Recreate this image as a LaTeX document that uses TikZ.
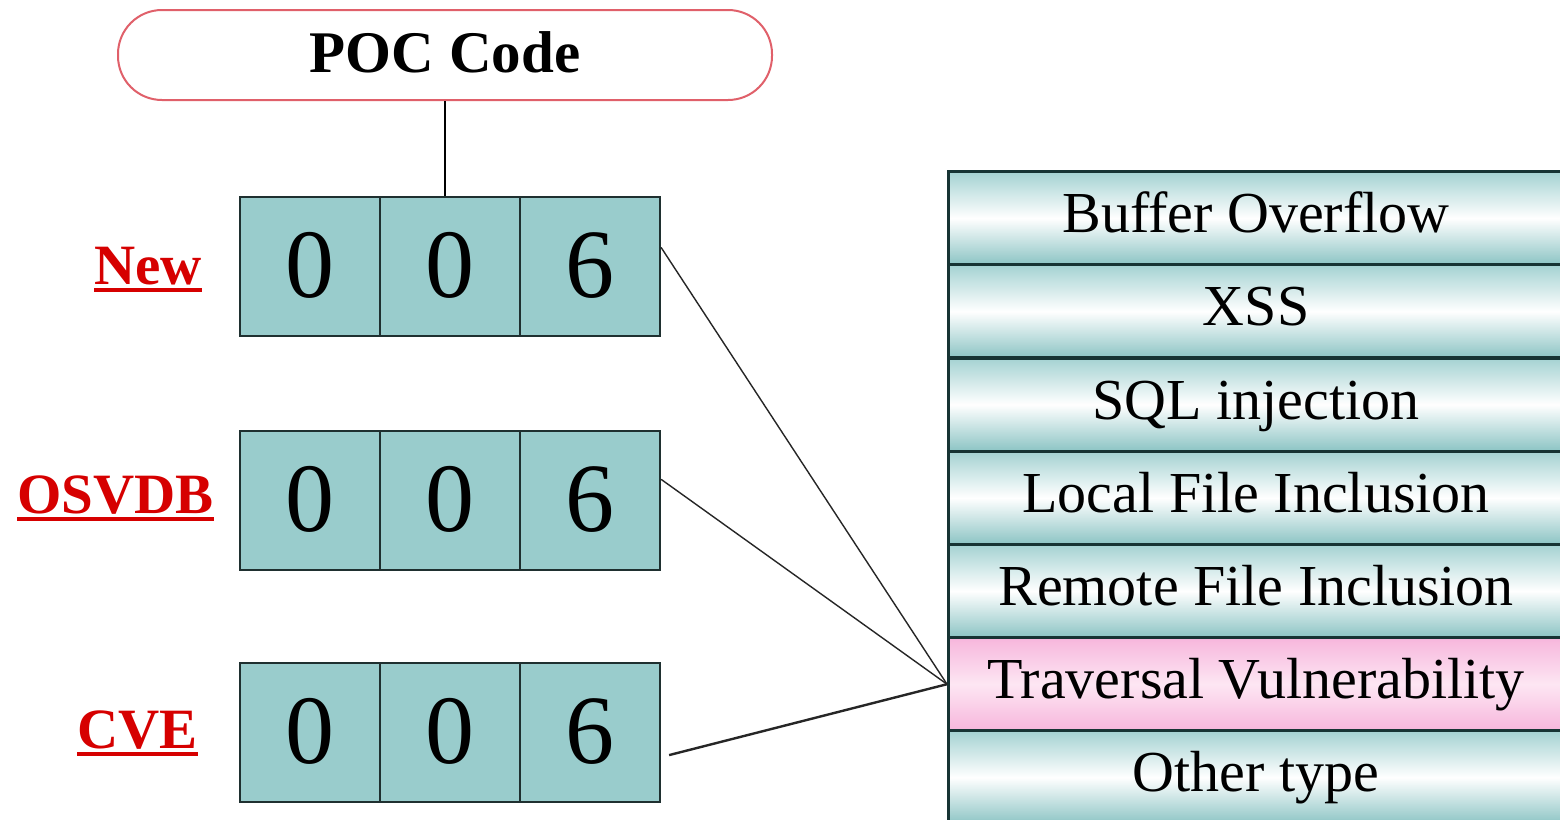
\documentclass[tikz,border=0pt]{standalone}
\usepackage{fontspec}
\setmainfont{Liberation Serif}
\usetikzlibrary{calc}
\definecolor{cellfill}{HTML}{99CCCC}
\definecolor{cellline}{HTML}{1F3030}
\definecolor{rowtealtop}{HTML}{A4D2D2}
\definecolor{rowteal}{HTML}{8CC4C4}
\definecolor{rowline}{HTML}{173434}
\definecolor{pinkA}{HTML}{F7B6DC}
\definecolor{pinkB}{HTML}{FDE6F3}
\definecolor{labred}{HTML}{D60000}
\definecolor{pocred}{HTML}{E0606A}
\newcommand\labul[1]{\setbox0\hbox{#1}\rlap{\rule[-8pt]{\wd0}{4pt}}\box0}
\tikzset{
  cellbox/.style={draw=cellline, line width=2.2pt, fill=cellfill, minimum width=140pt, minimum height=139pt, inner sep=0pt,
    font=\fontsize{98}{100}\selectfont, text height=68pt, text depth=7pt},
  rowbox/.style={draw=rowline, line width=3.2pt, top color=rowtealtop, bottom color=rowteal, middle color=white,
    minimum width=615pt, minimum height=93.2pt, inner sep=0pt, anchor=north west,
    font=\fontsize{58}{60}\selectfont, text height=40.6pt, text depth=11.6pt},
  pinkbox/.style={rowbox, top color=pinkA, bottom color=pinkA, middle color=pinkB},
  lab/.style={anchor=base east, inner sep=0pt, text=labred, font=\fontsize{57}{60}\selectfont\bfseries},
  conn/.style={draw=black!85, line width=1.4pt},
}
\begin{document}
\begin{tikzpicture}[x=1pt, y=-1pt]
\useasboundingbox (0,0) rectangle (1560,819);
\fill[white] (0,0) rectangle (1560,819);
\begin{scope}
\clip (0,0) rectangle (1560,819);
% POC Code
\node[draw=pocred, line width=2pt, fill=white, rounded corners=44pt, minimum width=654pt, minimum height=90pt, inner sep=0pt,
  font=\fontsize{59}{60}\selectfont\bfseries, text height=42pt, text depth=8pt] (poc) at (445,55) {POC Code};
% rows of digits
\node[cellbox] (n1) at (310,266.5) {0};
\node[cellbox] (n2) at (450,266.5) {0};
\node[cellbox] (n3) at (590,266.5) {6};
\node[cellbox] (o1) at (310,500.5) {0};
\node[cellbox] (o2) at (450,500.5) {0};
\node[cellbox] (o3) at (590,500.5) {6};
\node[cellbox] (c1) at (310,732.5) {0};
\node[cellbox] (c2) at (450,732.5) {0};
\node[cellbox] (c3) at (590,732.5) {6};
% labels
\node[lab] (lnew) at (202,284) {\labul{New}};
\node[lab] (losv) at (214,513) {\labul{OSVDB}};
\node[lab] (lcve) at (198,748) {\labul{CVE}};
% table
\node[rowbox] (r1) at (947,170) {Buffer Overflow};
\node[rowbox] (r2) at (947,263.2) {XSS};
\node[rowbox] (r3) at (947,356.4) {SQL injection};
\node[rowbox] (r4) at (947,449.6) {Local File Inclusion};
\node[rowbox] (r5) at (947,542.8) {Remote File Inclusion};
\node[pinkbox] (tv) at (947,636) {Traversal Vulnerability};
\node[rowbox] (r7) at (947,729.2) {Other type};
% connectors
\draw[line width=2pt] (poc.south) -- (poc.south |- n2.north);
\draw[conn] ($(n3.east)!0.27!(n3.north east)$) -- (tv.west);
\draw[conn] ($(o3.east)!0.3!(o3.north east)$) -- (tv.west);
\draw[conn, line width=2.4pt] ($(c3.east)!0.32!(c3.south east)+(8,0)$) -- (tv.west);
\end{scope}
\end{tikzpicture}
\end{document}
